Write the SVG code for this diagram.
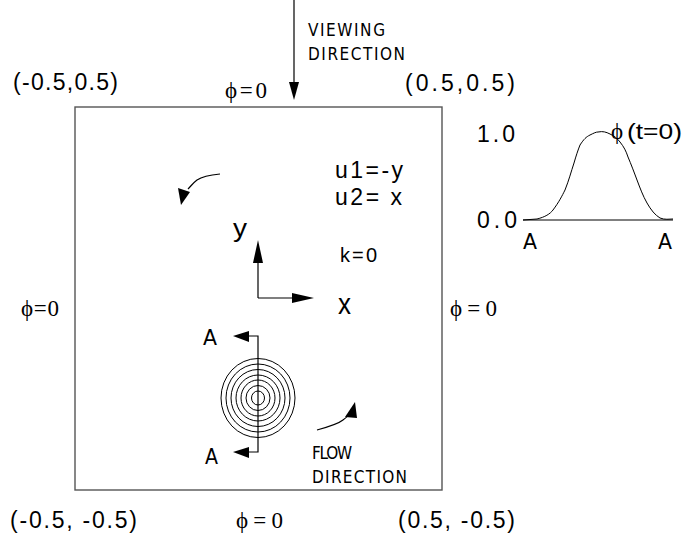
<svg xmlns="http://www.w3.org/2000/svg" width="687" height="536" viewBox="0 0 687 536">
<style>
.ln{fill:none;stroke:#000;stroke-width:1.2}
.hd{fill:#000;stroke:none}
.sa{font-family:"Liberation Sans",Arial,sans-serif;font-size:23px;fill:#000}
.nr{font-family:"Liberation Sans Narrow","DejaVu Sans Condensed","Liberation Sans",sans-serif;font-size:17px;fill:#000}
.sr{font-family:"Liberation Serif","DejaVu Serif",serif;font-size:23px;fill:#000}
.bigA{font-size:21px}
</style>
<rect width="687" height="536" fill="#fff"/>
<g id="domain">
<rect x="75" y="107" width="367" height="383" fill="none" stroke="#555" stroke-width="1.4"/>
</g>
<g id="corner-labels">
<text class="sa" x="13" y="90" textLength="105" lengthAdjust="spacing">(-0.5,0.5)</text>
<text class="sa" x="405" y="91" textLength="110" lengthAdjust="spacing">(0.5,0.5)</text>
<text class="sa" x="10" y="528" textLength="127" lengthAdjust="spacing">(-0.5, -0.5)</text>
<text class="sa" x="398" y="528" textLength="117" lengthAdjust="spacing">(0.5, -0.5)</text>
</g>
<g id="boundary-labels">
<text class="sr" x="225" y="98" textLength="42" lengthAdjust="spacing">ϕ=0</text>
<text class="sr" x="21" y="316" textLength="38" lengthAdjust="spacing">ϕ=0</text>
<text class="sr" x="450" y="316" textLength="47" lengthAdjust="spacing">ϕ=0</text>
<text class="sr" x="236" y="528" textLength="47" lengthAdjust="spacing">ϕ=0</text>
</g>
<g id="viewing-direction">
<text class="nr" x="308" y="36" textLength="77" lengthAdjust="spacing">VIEWING</text>
<text class="nr" x="308" y="60" textLength="97" lengthAdjust="spacing">DIRECTION</text>
</g>
<g id="velocity-labels">
<text class="sa" x="335" y="178" textLength="68" lengthAdjust="spacing">u1=-y</text>
<text class="sa" x="335" y="205" textLength="67" lengthAdjust="spacing">u2= x</text>
<text class="sa" x="340" y="262" style="font-size:20px" textLength="37" lengthAdjust="spacing">k=0</text>
</g>
<g id="axes-labels">
<text class="sa" x="233" y="237" style="font-size:25px" textLength="14" lengthAdjust="spacingAndGlyphs">y</text>
<text class="sa" x="338" y="314" style="font-size:30px" textLength="13" lengthAdjust="spacingAndGlyphs">x</text>
</g>
<g id="section-labels">
<text class="nr bigA" x="203" y="345" textLength="14" lengthAdjust="spacingAndGlyphs">A</text>
<text class="nr bigA" x="205" y="464" textLength="13" lengthAdjust="spacingAndGlyphs">A</text>
</g>
<g id="flow-direction">
<text class="nr" x="312" y="459" textLength="40" lengthAdjust="spacing">FLOW</text>
<text class="nr" x="312" y="483" textLength="95" lengthAdjust="spacing">DIRECTION</text>
</g>
<g id="contours" fill="none" stroke="#000" stroke-width="1">
<ellipse cx="258" cy="398" rx="37" ry="39.5"/>
<ellipse cx="258" cy="398" rx="32" ry="34"/>
<ellipse cx="258" cy="398" rx="27" ry="28.5"/>
<ellipse cx="258" cy="398" rx="22" ry="23"/>
<ellipse cx="258" cy="398" rx="17" ry="18"/>
<ellipse cx="258" cy="398" rx="12" ry="12.5"/>
<ellipse cx="258" cy="398" rx="6.5" ry="7"/>
</g>
<g id="profile-graph">
<line x1="523" y1="220" x2="673" y2="220" stroke="#000" stroke-width="1"/>
<path d="M523,220 L537,219 C545,217 550,214 553,210 C559,202 562,196 565,190 C569,180 571,172 574,163 C576,156 578,150 580,145 C584,139 586,137 590,135 C594,133 596,132 598,132 C603,131 606,132 610,134 C614,136 617,138 620,142 C624,147 626,151 628,157 C631,164 634,172 637,180 C640,188 643,196 647,203 C651,210 655,215 660,218 C665,220 669,219 673,219" fill="none" stroke="#000" stroke-width="1"/>
<text class="sa" x="477" y="142" textLength="38" lengthAdjust="spacing">1.0</text>
<text class="sa" x="477" y="228" textLength="40" lengthAdjust="spacing">0.0</text>
<text class="sr" x="611" y="139">ϕ</text>
<text class="sa" x="627" y="139" style="font-size:22px" textLength="55" lengthAdjust="spacingAndGlyphs">(t=0)</text>
<text class="nr bigA" x="523" y="249" textLength="14" lengthAdjust="spacingAndGlyphs">A</text>
<text class="nr bigA" x="658" y="249" textLength="14" lengthAdjust="spacingAndGlyphs">A</text>
</g>
<g id="connectors">
<line class="ln" x1="294" y1="0" x2="294" y2="84"/>
<polygon class="hd" points="289,82 299,82 294,100"/>
<path class="ln" d="M220,174 C210,175 203,176 197,180 C193,183 191,186 188,189"/>
<polygon class="hd" points="178,188 190,192 181,205"/>
<polyline class="ln" points="258,298 258,260"/>
<polygon class="hd" points="253,263 263,263 258,240"/>
<polyline class="ln" points="258,298 295,298"/>
<polygon class="hd" points="292,293 292,303 314,298"/>
<polyline class="ln" points="248,336 258,336 258,452 248,452"/>
<polygon class="hd" points="249,331 249,342 233,336"/>
<polygon class="hd" points="249,447 249,458 233,452"/>
<path class="ln" d="M317,430 C328,427 338,424 343,420 C346,418 348,416 350,413"/>
<polygon class="hd" points="345,417 357,418 355,402"/>
</g>
</svg>
